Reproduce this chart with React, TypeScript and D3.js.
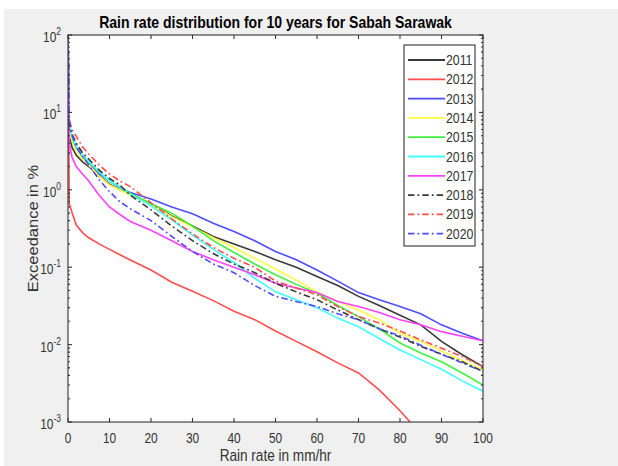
import * as d3 from 'd3';

// rain rate (mm/hr) sample points shared by every year
const rainRate = [0, 0.3, 1, 2, 3.5, 5, 7.5, 10, 12.5, 15, 20, 25, 30, 35, 40, 45, 50, 55, 60, 65, 70, 75, 80, 85, 90, 95, 100];

// exceedance in % per year
const exc2011 = [100, 5, 3.5, 2.8, 2.3, 2.0, 1.5, 1.18, 1.0, 0.88, 0.66, 0.46, 0.34, 0.25, 0.2, 0.16, 0.125, 0.1, 0.076, 0.058, 0.042, 0.032, 0.024, 0.018, 0.011, 0.0074, 0.0052];
const exc2012 = [100, 0.67, 0.5, 0.35, 0.28, 0.24, 0.2, 0.17, 0.145, 0.124, 0.092, 0.064, 0.049, 0.037, 0.027, 0.021, 0.015, 0.011, 0.0081, 0.0058, 0.0043, 0.0026, 0.0014, 0.0007, null, null, null];
const exc2013 = [100, 6.5, 4.5, 3.5, 2.7, 2.2, 1.6, 1.3, 1.05, 0.92, 0.76, 0.6, 0.49, 0.37, 0.29, 0.22, 0.16, 0.125, 0.092, 0.066, 0.047, 0.038, 0.031, 0.025, 0.018, 0.014, 0.0112];
const exc2014 = [100, 6, 4.2, 3.1, 2.5, 2.1, 1.5, 1.15, 1.0, 0.85, 0.65, 0.45, 0.33, 0.24, 0.18, 0.13, 0.095, 0.068, 0.048, 0.036, 0.028, 0.021, 0.014, 0.011, 0.0083, 0.0062, 0.0047];
const exc2015 = [100, 7, 4.8, 3.6, 2.8, 2.3, 1.7, 1.3, 1.1, 0.9, 0.66, 0.5, 0.34, 0.22, 0.155, 0.11, 0.08, 0.06, 0.046, 0.032, 0.023, 0.016, 0.0105, 0.0078, 0.006, 0.0043, 0.003];
const exc2016 = [100, 7, 4.8, 3.6, 2.8, 2.3, 1.7, 1.3, 1.08, 0.88, 0.62, 0.41, 0.26, 0.17, 0.115, 0.072, 0.048, 0.038, 0.03, 0.022, 0.017, 0.012, 0.0085, 0.0064, 0.0048, 0.0034, 0.0025];
const exc2017 = [100, 4, 2.6, 2.0, 1.6, 1.3, 0.85, 0.6, 0.48, 0.39, 0.3, 0.22, 0.16, 0.125, 0.1, 0.08, 0.062, 0.054, 0.047, 0.036, 0.031, 0.026, 0.021, 0.018, 0.0147, 0.0128, 0.0112];
const exc2018 = [100, 7, 5.2, 4.0, 3.0, 2.5, 1.8, 1.4, 1.15, 0.85, 0.55, 0.34, 0.22, 0.15, 0.11, 0.085, 0.062, 0.048, 0.038, 0.028, 0.021, 0.016, 0.0125, 0.0095, 0.0075, 0.006, 0.0045];
const exc2019 = [100, 8, 6, 4.9, 3.6, 2.9, 2.1, 1.6, 1.3, 1.1, 0.68, 0.42, 0.27, 0.18, 0.13, 0.1, 0.066, 0.054, 0.044, 0.031, 0.023, 0.019, 0.015, 0.0115, 0.009, 0.007, 0.0052];
const exc2020 = [100, 8, 5, 3.6, 2.7, 2.1, 1.35, 0.95, 0.7, 0.57, 0.4, 0.25, 0.16, 0.11, 0.085, 0.058, 0.042, 0.036, 0.031, 0.025, 0.021, 0.016, 0.013, 0.0098, 0.0075, 0.0058, 0.0045];

const years = ['2011', '2012', '2013', '2014', '2015', '2016', '2017', '2018', '2019', '2020'];
const xTickValues = [0, 10, 20, 30, 40, 50, 60, 70, 80, 90, 100];
const yExponents = [-3, -2, -1, 0, 1, 2];

const DASHDOT = '6.5,3,1.8,3';
const series = [
  { name: years[0], values: exc2011, color: '#3a3a3a', dash: null },
  { name: years[1], values: exc2012, color: '#ff4d4d', dash: null },
  { name: years[2], values: exc2013, color: '#4d4dff', dash: null },
  { name: years[3], values: exc2014, color: '#ffff40', dash: null },
  { name: years[4], values: exc2015, color: '#40f040', dash: null },
  { name: years[5], values: exc2016, color: '#40ffff', dash: null },
  { name: years[6], values: exc2017, color: '#ff40ff', dash: null },
  { name: years[7], values: exc2018, color: '#3a3a3a', dash: DASHDOT },
  { name: years[8], values: exc2019, color: '#ff4d4d', dash: DASHDOT },
  { name: years[9], values: exc2020, color: '#4d4dff', dash: DASHDOT },
];

const W = 618;
const H = 466;
const margin = { top: 35, right: 135, bottom: 44, left: 68 };
const FONT = '"Liberation Sans", Arial, Helvetica, sans-serif';
const AXIS = '#333';
// the picture is squeezed sideways, so horizontal text is narrower than it is tall
const SQ = 0.85;

function HText({ x, y, anchor = 'middle', size, weight, fill = AXIS, children }: any) {
  return (
    <text
      transform={`translate(${x},${y}) scale(${SQ},1)`}
      textAnchor={anchor}
      fontSize={size}
      fontWeight={weight}
      fill={fill}
    >
      {children}
    </text>
  );
}

export default function App() {
  const x = d3.scaleLinear().domain([0, 100]).range([margin.left, W - margin.right]);
  const y = d3.scaleLog().domain([1e-3, 1e2]).range([H - margin.bottom, margin.top]);
  const [x0, x1] = x.range();
  const [y0, y1] = y.range();

  const line = d3
    .line<[number, number | null]>()
    .defined(d => d[1] != null)
    .x(d => x(d[0]))
    .y(d => y(d[1] as number));

  const minor: number[] = [];
  yExponents.slice(0, -1).forEach(e => {
    for (let m = 2; m < 10; m++) minor.push(m * Math.pow(10, e));
  });

  const legend = { x: 404, y: 45, w: 71, h: 201, row: 19.3 };

  return (
    <svg width={W} height={H} style={{ position: 'absolute', left: 0, top: 0 }} fontFamily={FONT}>
      <rect x={0} y={0} width={W} height={H} fill="#fff" />
      <rect x={4} y={9} width={W - 4} height={H - 9} fill="#f0f0f0" />
      <defs>
        <clipPath id="plot">
          <rect x={x0} y={y1} width={x1 - x0} height={y0 - y1} />
        </clipPath>
      </defs>
      <rect x={x0} y={y1} width={x1 - x0} height={y0 - y1} fill="#fff" />

      {/* lines */}
      <g clipPath="url(#plot)">
        {series.map(s => (
          <path
            key={s.name}
            d={line(rainRate.map((r, i) => [r, s.values[i]]))!}
            fill="none"
            stroke={s.color}
            strokeWidth={1.6}
            strokeDasharray={s.dash ?? undefined}
          />
        ))}
      </g>

      {/* box and ticks */}
      <g stroke={AXIS} strokeWidth={1.1} fill="none">
        <rect x={x0} y={y1} width={x1 - x0} height={y0 - y1} />
        {xTickValues.map(v => (
          <g key={v}>
            <line x1={x(v)} x2={x(v)} y1={y0} y2={y0 - 4} />
            <line x1={x(v)} x2={x(v)} y1={y1} y2={y1 + 4} />
          </g>
        ))}
        {yExponents.map(e => (
          <g key={e}>
            <line x1={x0} x2={x0 + 4} y1={y(Math.pow(10, e))} y2={y(Math.pow(10, e))} />
            <line x1={x1} x2={x1 - 4} y1={y(Math.pow(10, e))} y2={y(Math.pow(10, e))} />
          </g>
        ))}
        {minor.map(v => (
          <g key={v}>
            <line x1={x0} x2={x0 + 2} y1={y(v)} y2={y(v)} />
            <line x1={x1} x2={x1 - 2} y1={y(v)} y2={y(v)} />
          </g>
        ))}
      </g>

      {/* tick labels */}
      {xTickValues.map(v => (
        <HText key={v} x={x(v)} y={y0 + 21} size={14}>
          {v}
        </HText>
      ))}
      {yExponents.map(e => (
        <HText key={e} x={x0 - 7} y={y(Math.pow(10, e)) + 7} anchor="end" size={14}>
          10
          <tspan dy={-7} fontSize={10}>
            {e}
          </tspan>
        </HText>
      ))}

      {/* titles */}
      <HText x={(x0 + x1) / 2} y={28} size={16.5} weight="bold" fill="#000">
        Rain rate distribution for 10 years for Sabah Sarawak
      </HText>
      <HText x={(x0 + x1) / 2} y={461} size={16}>
        Rain rate in mm/hr
      </HText>
      <text
        transform={`translate(38,${(y0 + y1) / 2}) rotate(-90) scale(1,${SQ})`}
        textAnchor="middle"
        fontSize={16.5}
        fill={AXIS}
      >
        Exceedance in %
      </text>

      {/* legend */}
      <g>
        <rect x={legend.x} y={legend.y} width={legend.w} height={legend.h} fill="#fff" stroke={AXIS} strokeWidth={1.1} />
        {series.map((s, i) => {
          const ly = legend.y + 15 + i * legend.row;
          return (
            <g key={s.name}>
              <line
                x1={legend.x + 4}
                x2={legend.x + 41}
                y1={ly}
                y2={ly}
                stroke={s.color}
                strokeWidth={1.8}
                strokeDasharray={s.dash ?? undefined}
              />
              <HText x={legend.x + 42} y={ly + 5} anchor="start" size={14.5}>
                {s.name}
              </HText>
            </g>
          );
        })}
      </g>
    </svg>
  );
}
